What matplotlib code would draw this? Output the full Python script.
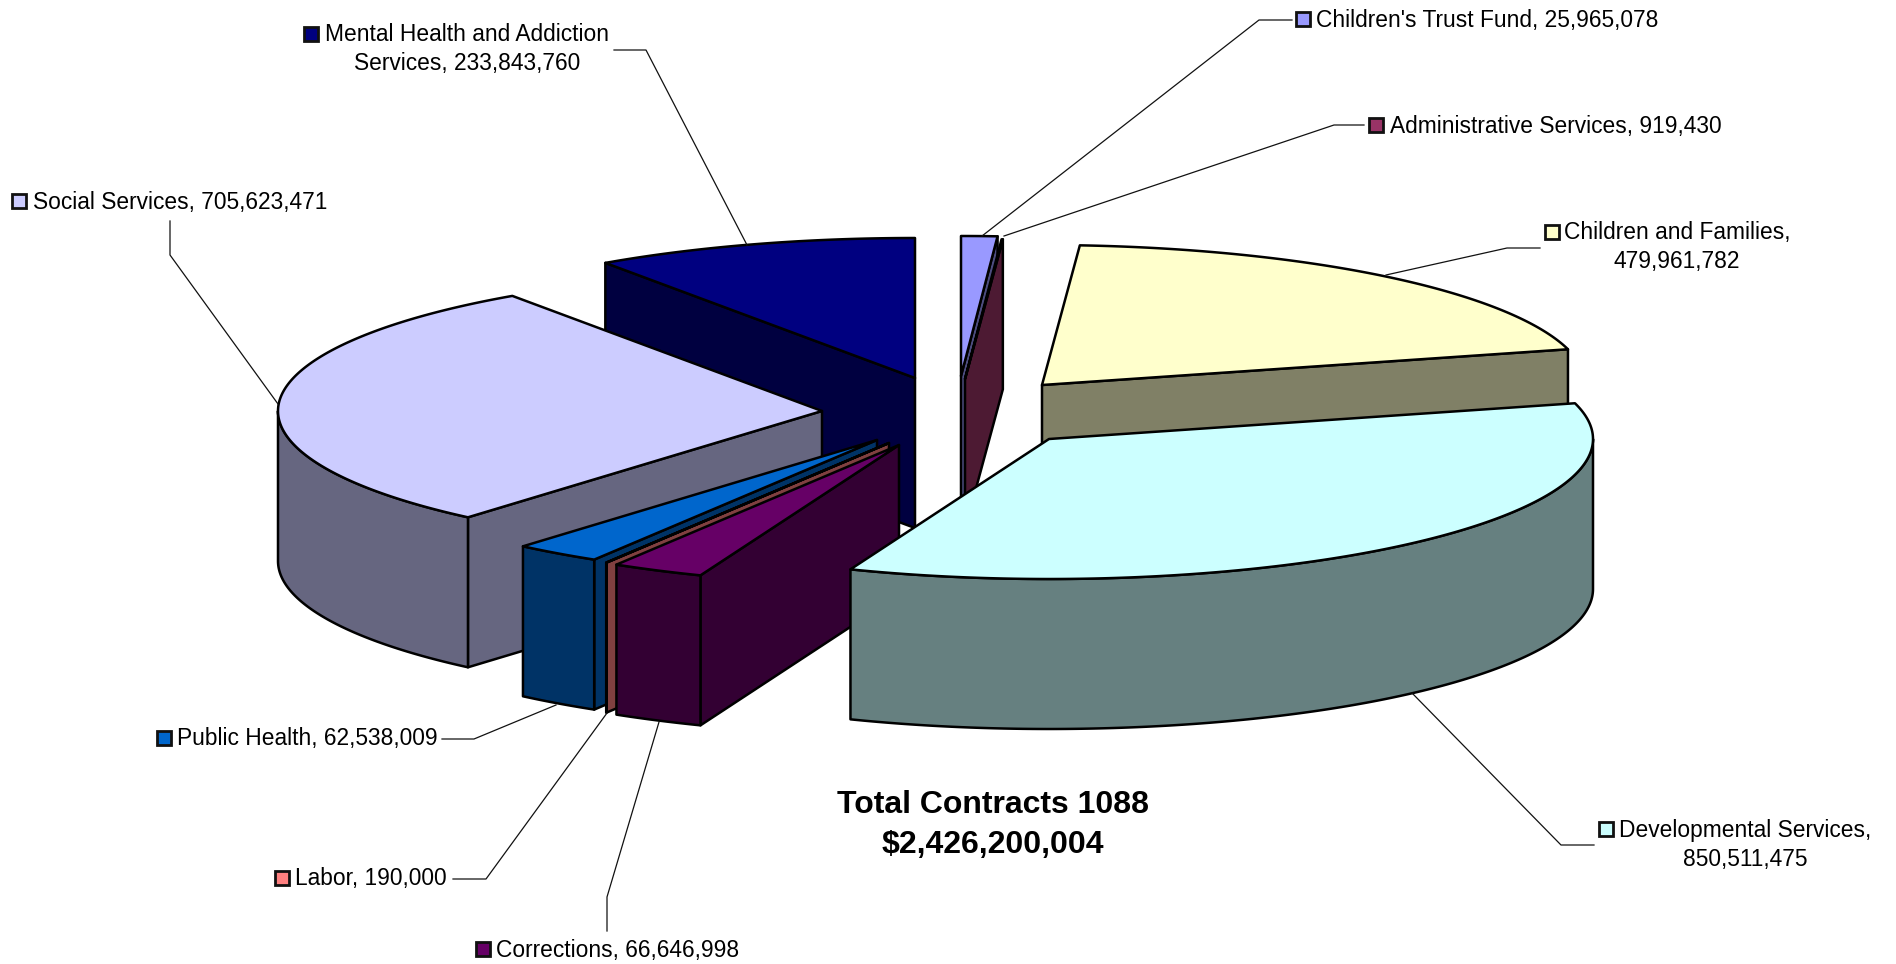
import numpy as np
import matplotlib
matplotlib.use("Agg")
import matplotlib.pyplot as plt
from matplotlib.patches import Polygon, Rectangle

plt.rcParams['font.family'] = ['Liberation Sans', 'DejaVu Sans']

# Data, clockwise from 12 o'clock
names = ["Children's Trust Fund", "Administrative Services", "Children and Families",
         "Developmental Services", "Corrections", "Labor", "Public Health",
         "Social Services", "Mental Health and Addiction\nServices"]
values = [25965078, 919430, 479961782, 850511475, 66646998, 190000, 62538009,
          705623471, 233843760]
title_lines = ["Total Contracts 1088", "$2,426,200,004"]

# Styles
top_colors = ["#9999FF", "#993366", "#FFFFCC", "#CCFFFF", "#660066", "#FF8080",
              "#0066CC", "#CCCCFF", "#000080"]
side_colors = ["#4D4D80", "#4D1A33", "#808066", "#668080", "#330033", "#804040",
               "#003366", "#666680", "#000040"]

# Layout, in pixels of the 1896x964 picture
RX, RY, DEPTH = 544, 140, 150
apex_x = [961, 965, 1042, 1049, 899, 889, 877, 822, 915]
apex_y = [376, 379, 385, 439, 445, 443, 440, 411, 378]
# order the slices get painted in, back to front
paint_order = [0, 1, 8, 2, 7, 6, 5, 4, 3]

key_x = [1296, 1369, 1545, 1599, 476, 275, 157, 12, 304]
key_y = [19, 125, 232, 829, 949, 878, 738, 201, 34]
text_x = [1316, 1390, 1677, 1745, 496, 295, 177, 33, 467]
text_y = [20, 126, 247, 845, 950, 879, 739, 202, 49]
text_ha = ["left", "left", "center", "center", "left", "left", "left", "left", "center"]
value_on_new_line = [False, False, True, True, False, False, False, False, False]

leader_x = [[1292, 1259, 982], [1364, 1334, 1004], [1540, 1507, 1386], [1594, 1561, 1412],
            [607, 607, 659], [453, 486, 607], [442, 474, 556], [170, 170, 278], [614, 646, 747]]
leader_y = [[20, 20, 236], [125, 125, 236], [248, 248, 275], [845, 845, 693],
            [931, 897, 722], [879, 879, 713], [739, 739, 705], [221, 255, 404], [50, 50, 245]]

EDGE = dict(edgecolor="black", linewidth=1.8, joinstyle="round")


def rim_point(i, angle):
    return (apex_x[i] + RX * np.sin(angle), apex_y[i] - RY * np.cos(angle))


def arc(i, start, end):
    n = max(2, int(np.degrees(end - start)) * 2)
    t = np.linspace(start, end, n)
    return np.column_stack(rim_point(i, t))


def lowered(points):
    return points + np.array([0, DEPTH])


def draw_slice(ax, i, start, end):
    apex = np.array([[apex_x[i], apex_y[i]]], dtype=float)

    # radial walls, only the ones that face the viewer
    if np.sin(start) < 0:
        edge = np.vstack([apex, arc(i, start, start + 1e-4)[:1]])
        wall = np.vstack([edge, lowered(edge)[::-1]])
        ax.add_patch(Polygon(wall, facecolor=side_colors[i], **EDGE))
    if np.sin(end) > 1e-6:
        edge = np.vstack([apex, arc(i, end - 1e-4, end)[-1:]])
        wall = np.vstack([edge, lowered(edge)[::-1]])
        ax.add_patch(Polygon(wall, facecolor=side_colors[i], **EDGE))

    # outer rim, front half of the ellipse only
    a = max(start, np.pi / 2)
    b = min(end, 3 * np.pi / 2)
    if b > a:
        top = arc(i, a, b)
        ax.add_patch(Polygon(np.vstack([top, lowered(top)[::-1]]),
                             facecolor=side_colors[i], **EDGE))

    ax.add_patch(Polygon(np.vstack([apex, arc(i, start, end)]),
                         facecolor=top_colors[i], **EDGE))


fig = plt.figure(figsize=(18.96, 9.64), dpi=100, facecolor="white")
ax = fig.add_axes([0, 0, 1, 1])
ax.set_xlim(0, 1896)
ax.set_ylim(964, 0)
ax.axis("off")

# Slice angles from the values
edges = np.concatenate([[0], np.cumsum(values)]) / np.sum(values) * 2 * np.pi

for i in paint_order:
    draw_slice(ax, i, edges[i], edges[i + 1])

# Leader lines, keys and labels
for i in range(len(names)):
    ax.plot(leader_x[i], leader_y[i], color="#111111", linewidth=0.9, zorder=1)
    ax.add_patch(Rectangle((key_x[i], key_y[i] - 7), 14, 14, facecolor=top_colors[i],
                           edgecolor="#111111", linewidth=2, zorder=5))
    sep = ",\n" if value_on_new_line[i] else ", "
    ax.text(text_x[i], text_y[i], f"{names[i]}{sep}{values[i]:,}", fontsize=16.4,
            ha=text_ha[i], va="center", multialignment="center", linespacing=1.38,
            color="black", zorder=5)

ax.text(993, 805, title_lines[0], fontsize=23, fontweight="bold", ha="center", va="center")
ax.text(993, 845, title_lines[1], fontsize=23, fontweight="bold", ha="center", va="center")

fig.savefig("out.png", dpi=100)
